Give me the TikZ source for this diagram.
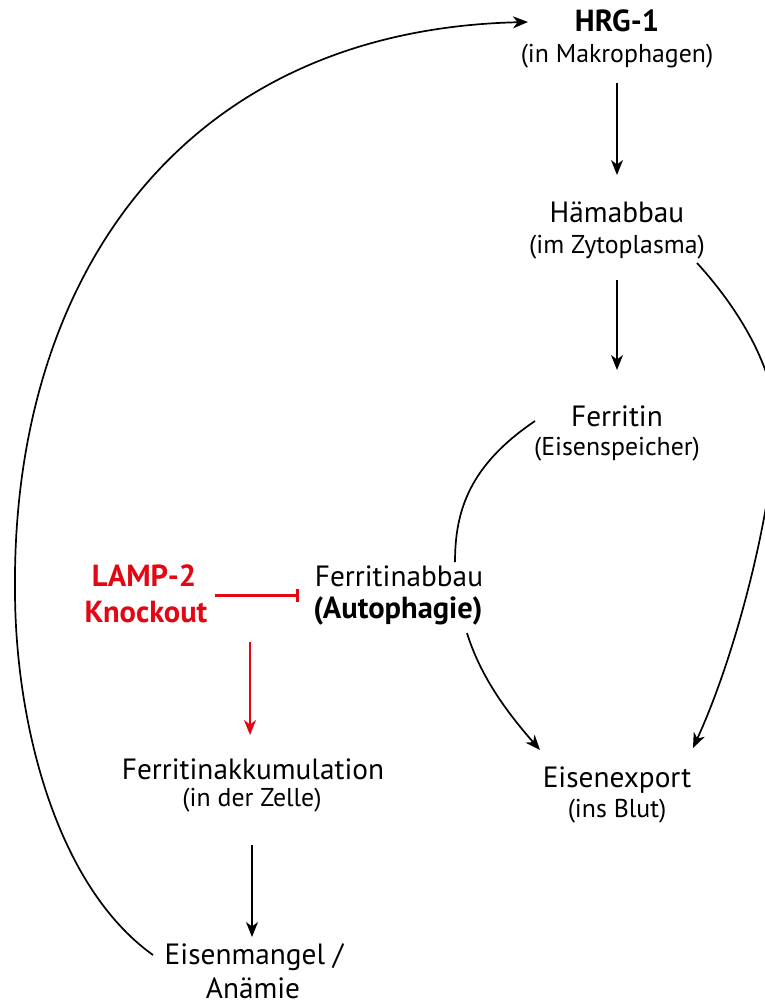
\documentclass[tikz,border=0pt]{standalone}
\usepackage{fontspec}
\setmainfont{PT Sans}
\usetikzlibrary{arrows.meta,calc}
\definecolor{lampred}{RGB}{227,6,19}
\begin{document}
\begin{tikzpicture}[x=1pt,y=-1pt,
  title/.style={font=\fontsize{29.3}{32}\selectfont, anchor=base, inner sep=0pt},
  boldtitle/.style={font=\fontsize{30.5}{33}\selectfont\bfseries, anchor=base, inner sep=0pt},
  subt/.style={font=\fontsize{25.8}{28}\selectfont, anchor=base, inner sep=0pt},
  redtitle/.style={font=\fontsize{30.5}{33}\selectfont\bfseries, text=lampred, anchor=base, inner sep=0pt},
  conn/.style={line width=1.7pt, draw=black},
  arr/.style={conn, -{Stealth[length=15pt,width=12pt,inset=4.5pt]}},
  redarr/.style={line width=2pt, draw=lampred, -{Stealth[length=15pt,width=12pt,inset=4.5pt]}},
  inhib/.style={line width=3pt, draw=lampred, -{Bar[width=13pt,line width=3pt]}}
]
\useasboundingbox (0,0) rectangle (764,1005);

% nodes
\node[boldtitle] (hrg) at (617,31) {HRG-1};
\node[subt] (hrgsub) at (617,62) {(in Makrophagen)};
\node[title] (ham) at (617,222) {Hämabbau};
\node[subt] (hamsub) at (617,253) {(im Zytoplasma)};
\node[title] (fer) at (617,426) {Ferritin};
\node[subt] (fersub) at (617,455) {(Eisenspeicher)};
\node[redtitle] (lamp) at (144,586) {LAMP-2};
\node[redtitle] (knock) at (146,622) {Knockout};
\node[title] (abbau) at (399,586) {Ferritinabbau};
\node[boldtitle] (autop) at (398,618) {(Autophagie)};
\node[title] (akk) at (253,779) {Ferritinakkumulation};
\node[subt] (akksub) at (252,806) {(in der Zelle)};
\node[title] (export) at (617,787) {Eisenexport};
\node[subt] (exportsub) at (617,817) {(ins Blut)};
\node[title] (mangel) at (254,964) {Eisenmangel /};
\node[title] (anaemie) at (253,998) {Anämie};

% straight arrows
\draw[arr] ($(hrgsub.base)+(0,21)$) -- ($(ham.base)+(0,-47)$);
\draw[arr] ($(hamsub.base)+(0,27)$) -- ($(fer.base)+(0,-56)$);
\draw[arr] ($(akksub.base)+(0,39)$) -- ($(mangel.base)+(-2,-27)$);

% inhibition and red arrow
\draw[inhib] ($(lamp.base)+(71,9)$) -- ($(abbau.base)+(-100,9)$);
\draw[redarr] ($(lamp.base)+(106,56)$) -- ($(akk.base)+(-3,-44)$);

% curved connectors
\draw[conn] ($(fer.base)+(-82,-5)$) .. controls (470,465) and (455,510) .. ($(abbau.base)+(56,-24)$);
\draw[arr] ($(autop.base)+(69,15)$) .. controls (480,675) and (505,710) .. ($(export.base)+(-77,-37)$);
\draw[arr] ($(hamsub.base)+(80,10)$) .. controls (740,310) and (775,370) .. (775,420)
   .. controls (775,500) and (738,650) .. ($(export.base)+(76,-39)$);
\draw[arr] ($(mangel.base)+(-101,-9)$) .. controls (55,885) and (15,720) .. (15,590)
   .. controls (12,280) and (180,30) .. ($(hrg.base)+(-89,-9)$);
\end{tikzpicture}
\end{document}
